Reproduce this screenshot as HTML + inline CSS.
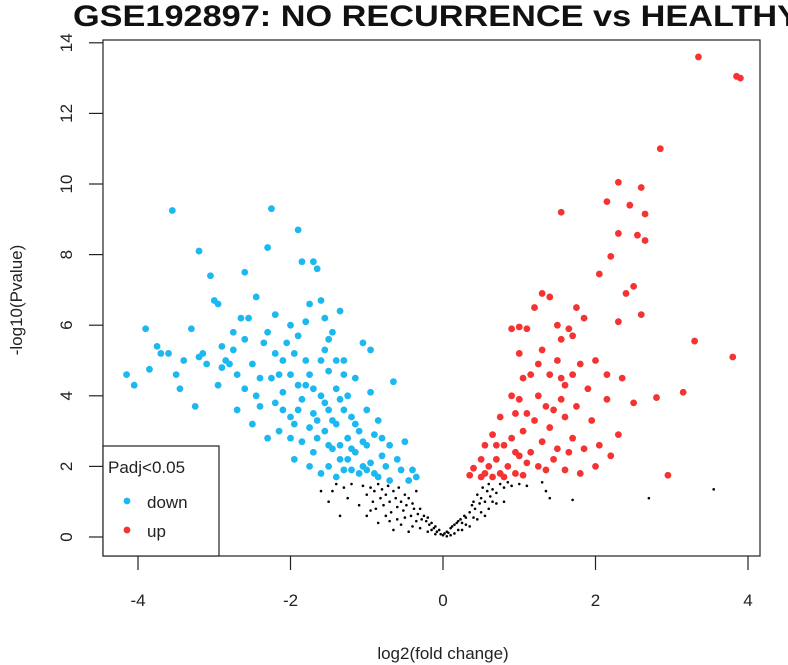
<!DOCTYPE html>
<html><head><meta charset="utf-8"><style>
html,body{margin:0;padding:0;background:#fff;overflow:hidden;}
svg{display:block;font-family:"Liberation Sans",Arial,sans-serif;}
</style></head><body>
<svg id="chart" width="788" height="665" viewBox="0 0 788 665">
<text x="73" y="26" font-size="30" font-weight="bold" fill="#111" textLength="727" lengthAdjust="spacingAndGlyphs">GSE192897: NO RECURRENCE vs HEALTHY</text>
<rect x="103" y="40" width="657" height="516" fill="none" stroke="#222" stroke-width="1.2"/>
<g id="xaxis"></g>
<g id="yaxis"></g>
<g id="points"></g>
<text x="443" y="659" font-size="17" text-anchor="middle" fill="#222">log2(fold change)</text>
<text transform="translate(22,300) rotate(-90)" font-size="17" text-anchor="middle" fill="#222">-log10(Pvalue)</text>
<g>
<rect x="103" y="446" width="116" height="110" fill="#fff" stroke="#222" stroke-width="1.2"/>
<text x="108" y="473" font-size="17" fill="#222">Padj&lt;0.05</text>
<circle cx="127" cy="501" r="3.4" fill="#1cb8f0"/>
<text x="147" y="508" font-size="17" fill="#222">down</text>
<circle cx="127" cy="530" r="3.4" fill="#f53333"/>
<text x="147" y="537" font-size="17" fill="#222">up</text>
</g>
</svg>
<script>
const xTicks=[-4,-2,0,2,4];
const yTicks=[0,2,4,6,8,10,12,14];
const downX=[-4.15,-4.05,-3.9,-3.85,-3.75,-3.7,-3.6,-3.55,-3.45,-3.3,-3.25,-3.2,-3.2,-3.15,-3.1,-3.05,-3.0,-2.95,-2.95,-2.9,-2.85,-2.8,-2.75,-2.7,-2.75,-2.65,-2.6,-2.55,-2.5,-2.45,-2.4,-2.35,-2.3,-2.25,-2.25,-2.2,-2.2,-2.15,-2.1,-2.05,-2.0,-2.0,-1.95,-1.9,-1.9,-1.85,-1.85,-1.8,-1.8,-1.75,-1.7,-1.7,-1.65,-1.6,-1.6,-1.55,-1.55,-1.5,-1.5,-1.45,-1.45,-1.4,-1.4,-1.35,-1.35,-1.3,-1.3,-1.25,-1.25,-1.2,-1.2,-1.15,-1.15,-1.1,-1.05,-1.05,-1.0,-1.0,-0.95,-0.95,-0.9,-0.85,-0.8,-0.75,-0.7,-0.65,-0.6,-0.55,-0.5,-0.45,-0.4,-0.35,-2.0,-2.3,-1.95,-1.7,-1.6,-1.5,-1.4,-1.3,-1.2,-1.1,-1.0,-0.9,-0.8,-0.7,-1.55,-1.75,-1.85,-1.65,-1.45,-1.35,-1.25,-1.15,-1.05,-2.1,-2.15,-2.4,-2.6,-2.7,-2.5,-2.0,-1.9,-1.8,-1.7,-1.6,-1.5,-1.4,-1.3,-1.9,-2.1,-2.3,-2.6,-2.9,-3.4,-3.5,-2.2,-1.95,-1.75,-1.5,-0.95,-0.85,-1.65,-1.35,-2.45,-1.75,-1.55];
const downY=[4.6,4.3,5.9,4.75,5.4,5.2,5.2,9.25,4.2,5.9,3.7,5.1,8.1,5.2,4.9,7.4,6.7,6.6,4.3,4.8,5.0,4.9,5.3,4.6,5.8,6.2,7.5,6.2,4.9,4.0,3.7,5.5,8.2,9.3,4.5,6.3,5.2,4.6,4.1,5.5,3.4,6.0,5.2,8.7,4.3,3.9,7.8,6.1,5.0,4.6,3.5,7.8,7.6,6.7,4.0,5.3,3.0,4.7,3.6,2.5,5.8,4.2,3.2,6.4,2.2,3.6,5.0,2.8,4.0,1.9,3.4,2.4,4.5,3.0,2.0,5.5,2.6,3.6,2.1,5.3,2.9,1.7,2.3,2.0,1.6,4.4,2.2,1.9,2.7,1.6,1.9,1.7,2.8,2.8,2.2,2.4,1.8,2.0,1.7,1.9,2.5,1.8,1.9,1.8,2.8,2.6,3.8,3.1,2.7,3.3,3.3,2.6,2.2,3.2,2.7,3.6,3.0,4.5,4.2,3.6,3.2,4.6,3.6,4.3,4.2,5.0,5.6,5.0,4.6,5.7,5.0,5.8,5.6,5.4,5.0,4.6,3.8,3.2,2.0,2.6,4.1,3.3,2.8,3.9,6.8,6.6,6.2];
const upX=[3.35,3.85,3.9,2.85,2.3,2.6,2.15,2.45,2.65,1.55,2.3,2.55,2.65,2.2,2.05,2.5,2.4,1.3,1.4,1.2,1.75,1.85,2.3,1.0,1.1,0.9,1.5,1.65,1.55,3.3,3.8,1.7,1.8,2.0,1.0,1.3,1.5,1.4,1.6,1.25,1.35,1.55,1.9,1.05,0.9,0.95,1.1,0.75,0.65,0.55,0.5,0.6,0.7,0.8,0.85,0.9,1.0,1.05,1.15,1.2,1.3,1.4,1.5,1.6,1.7,1.75,1.85,1.95,2.05,2.15,2.3,2.35,2.5,2.8,3.15,2.95,0.35,0.4,0.5,0.55,0.65,0.75,0.8,0.95,1.05,1.1,1.25,1.35,1.6,1.8,0.7,0.95,1.15,1.45,1.7,1.25,2.15,2.6,1.55,1.65,2.0,2.2,1.45,1.0];
const upY=[13.6,13.05,13.0,11.0,10.05,9.9,9.5,9.4,9.15,9.2,8.6,8.55,8.4,7.95,7.45,7.1,6.9,6.9,6.8,6.5,6.5,6.2,6.1,5.95,5.9,5.9,6.0,5.9,5.6,5.55,5.1,5.7,4.9,5.0,5.2,5.3,5.0,4.6,4.3,4.0,3.7,4.5,4.2,4.5,4.0,3.5,3.5,3.4,2.9,2.6,2.2,2.0,2.2,2.6,2.0,2.8,2.3,3.0,2.4,3.3,2.7,3.1,2.5,3.4,2.8,3.7,2.5,3.3,2.6,3.9,2.9,4.5,3.8,3.95,4.1,1.75,1.75,1.95,1.7,1.8,1.7,1.8,1.7,1.8,1.75,2.1,2.0,1.9,1.9,1.8,2.6,2.4,4.6,3.6,4.6,4.9,4.6,6.3,3.9,2.4,2.0,2.3,2.2,3.9];
const nsX=[-1.05,-1.0,-0.95,-0.92,-0.9,-0.88,-0.85,-0.82,-0.8,-0.78,-0.75,-0.72,-0.7,-0.68,-0.65,-0.62,-0.6,-0.58,-0.55,-0.52,-0.5,-0.48,-0.45,-0.42,-0.4,-0.38,-0.35,-0.33,-0.3,-0.28,-0.25,-0.22,-0.2,-0.18,-0.15,-0.12,-0.1,-0.08,-0.05,-0.03,0,0.02,0.05,0.07,0.1,0.12,0.15,0.18,0.2,0.23,0.25,0.28,0.3,0.35,0.38,0.4,0.42,0.45,0.48,0.5,0.52,0.55,0.58,0.6,0.62,0.65,0.7,0.75,0.8,0.85,0.9,-1.2,-1.3,-1.4,-1.1,-1.25,-1.5,-1.6,-1.35,-1.0,-0.85,-0.6,-0.4,-0.3,-0.5,-0.7,-0.2,-0.1,0.1,0.2,0.3,0.4,0.5,0.6,0.7,0.8,1.0,1.1,1.3,-1.45,-0.95,-0.75,-0.55,-0.35,0.15,0.25,0.35,0.45,0.55,0.65,2.7,3.55,1.35,1.4,1.7,-0.65,-0.45,0.05,-0.15];
const nsY=[1.45,1.2,1.4,1.0,1.3,0.8,1.5,1.1,1.35,0.9,1.2,1.45,1.0,0.7,1.3,1.1,0.85,1.4,1.0,0.75,1.2,0.9,1.1,0.6,0.95,0.8,1.3,0.65,0.8,0.5,0.6,0.45,0.55,0.35,0.4,0.25,0.3,0.15,0.2,0.08,0.05,0.1,0.15,0.12,0.25,0.3,0.35,0.4,0.45,0.5,0.4,0.6,0.55,0.7,0.9,1.0,0.8,1.2,0.95,1.1,1.4,1.0,1.3,1.5,1.15,1.35,1.25,1.5,1.4,1.55,1.45,1.5,1.4,1.5,0.9,1.1,1.0,1.3,0.6,0.6,0.4,0.5,0.3,0.25,0.55,0.45,0.15,0.08,0.05,0.2,0.35,0.55,0.7,0.8,0.95,1.0,1.5,1.45,1.55,1.3,0.75,0.6,0.35,0.45,0.1,0.2,0.3,0.5,0.6,1.0,1.1,1.35,1.3,1.1,1.05,0.2,0.15,0.02,0.2];

const NS='http://www.w3.org/2000/svg';
function sx(v){return 443+v*76.25;}
function sy(v){return 537-v*35.3;}
function mk(tag,attrs,parent){const e=document.createElementNS(NS,tag);for(const k in attrs)e.setAttribute(k,attrs[k]);parent.appendChild(e);return e;}
const xg=document.getElementById('xaxis'),yg=document.getElementById('yaxis'),pg=document.getElementById('points');
xTicks.forEach(t=>{
  const tk=mk('line',{x1:sx(t),x2:sx(t),y1:556,y2:570,stroke:'#222','stroke-width':1.2},xg);
  
  
  const tx=mk('text',{x:sx(t),y:606,'font-size':17,'text-anchor':'middle',fill:'#222'},xg);
  tx.textContent=String(t);
  
  
});
yTicks.forEach(t=>{
  const tk=mk('line',{x1:89,x2:103,y1:sy(t),y2:sy(t),stroke:'#222','stroke-width':1.2},yg);
  
  
  const tx=mk('text',{transform:'translate(72,'+sy(t)+') rotate(-90)','font-size':17,'text-anchor':'middle',fill:'#222'},yg);
  tx.textContent=String(t);
  
  
});
nsX.forEach((x,i)=>{
  const c=mk('circle',{cx:sx(x),cy:sy(nsY[i]),r:1.3,fill:'#000'},pg);
  
  
});
downX.forEach((x,i)=>{
  const c=mk('circle',{cx:sx(x),cy:sy(downY[i]),r:3.4,fill:'#1cb8f0'},pg);
  
  
});
upX.forEach((x,i)=>{
  const c=mk('circle',{cx:sx(x),cy:sy(upY[i]),r:3.4,fill:'#f53333'},pg);
  
  
});
</script>
</body></html>
